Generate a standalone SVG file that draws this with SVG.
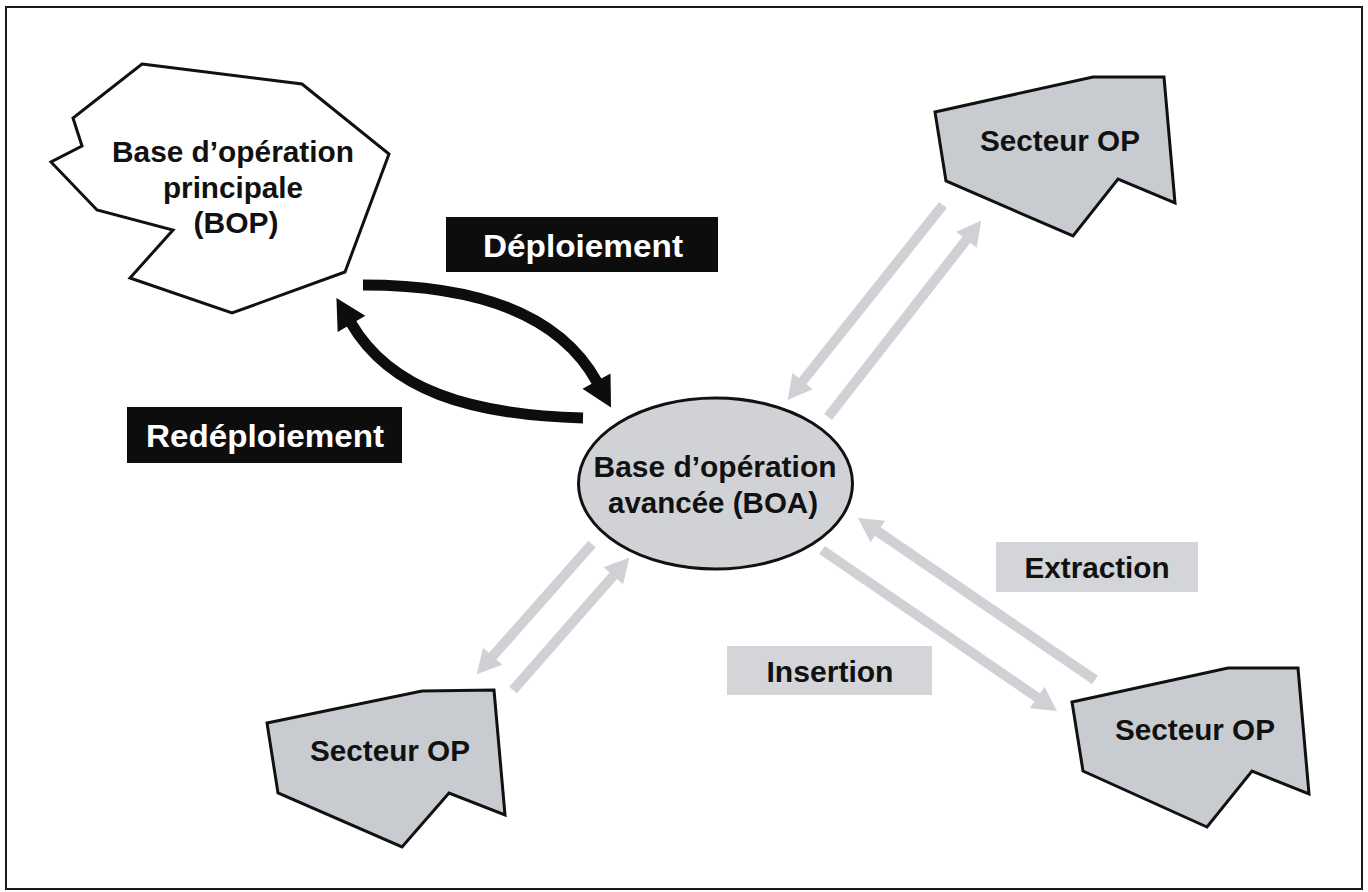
<svg xmlns="http://www.w3.org/2000/svg" width="1368" height="892" viewBox="0 0 1368 892">
<style>
.lbl{font-family:"Liberation Sans",Arial,sans-serif;font-weight:bold;text-anchor:middle;fill:#111;}
.n{font-size:30px;}
.w{font-size:32px;fill:#fff;}
.sector{fill:#c8cbd0;stroke:#111;stroke-width:3;stroke-linejoin:miter;}
.garrow{fill:none;stroke:#cfd1d5;stroke-width:10;}
.barrow{fill:none;stroke:#0d0d0d;stroke-width:11;}
.gbox{fill:#d3d5d8;}
.bbox{fill:#0d0d0d;}
</style>
<defs>
<marker id="gh" markerUnits="userSpaceOnUse" markerWidth="40" markerHeight="40" refX="1" refY="0" orient="auto" viewBox="0 -20 40 40" overflow="visible">
<path d="M0,-13 L24,0 L0,13 z" fill="#cfd1d5"/>
</marker>
<marker id="bh" markerUnits="userSpaceOnUse" markerWidth="40" markerHeight="40" refX="1" refY="0" orient="auto" viewBox="0 -20 40 40" overflow="visible">
<path d="M0,-16 L30,0 L0,16 z" fill="#0d0d0d"/>
</marker>
</defs>
<rect x="0" y="0" width="1368" height="892" fill="#fff"/>
<rect x="6" y="7" width="1356" height="882" fill="none" stroke="#1a1a1a" stroke-width="2"/>

<g id="connectors">
<path class="barrow" d="M363,285 C480,285 560,315 597,382" marker-end="url(#bh)"/>
<path class="barrow" d="M583,418 C470,415 390,390 351,323" marker-end="url(#bh)"/>
<line class="garrow" x1="943" y1="205" x2="802" y2="382" marker-end="url(#gh)"/>
<line class="garrow" x1="828" y1="417" x2="967" y2="239" marker-end="url(#gh)"/>
<line class="garrow" x1="592" y1="544" x2="492" y2="657" marker-end="url(#gh)"/>
<line class="garrow" x1="513" y1="690" x2="614" y2="575" marker-end="url(#gh)"/>
<line class="garrow" x1="822" y1="550" x2="1038" y2="698" marker-end="url(#gh)"/>
<line class="garrow" x1="1095" y1="680" x2="877" y2="531" marker-end="url(#gh)"/>
</g>

<g id="bop">
<polygon points="142,64 302,84 389,154 345,272 232,313 130,278 173,230 97,210 51,162 82,146 73,118" fill="#fff" stroke="#111" stroke-width="3"/>
<text class="lbl n" x="233" y="162" textLength="242" lengthAdjust="spacingAndGlyphs">Base d’opération</text>
<text class="lbl n" x="233" y="198" textLength="140" lengthAdjust="spacingAndGlyphs">principale</text>
<text class="lbl n" x="236" y="233" textLength="85" lengthAdjust="spacingAndGlyphs">(BOP)</text>
</g>

<g id="boa">
<ellipse cx="715.5" cy="483.5" rx="137" ry="85.5" fill="#d0d2d6" stroke="#111" stroke-width="3"/>
<text class="lbl n" x="715" y="477" textLength="243" lengthAdjust="spacingAndGlyphs">Base d’opération</text>
<text class="lbl n" x="713" y="513" textLength="210" lengthAdjust="spacingAndGlyphs">avancée (BOA)</text>
</g>

<g id="sector-tr">
<polygon class="sector" points="935,112 1093,77 1164,77 1175,203 1118,179 1073,236 946,181"/>
<text class="lbl n" x="1060" y="151" textLength="160" lengthAdjust="spacingAndGlyphs">Secteur OP</text>
</g>

<g id="sector-bl">
<polygon class="sector" points="267,723 422,691 494,690 505,815 449,793 402,847 278,793"/>
<text class="lbl n" x="390" y="761" textLength="160" lengthAdjust="spacingAndGlyphs">Secteur OP</text>
</g>

<g id="sector-br">
<polygon class="sector" points="1072,702 1228,668 1298,668 1309,794 1252,771 1207,827 1083,771"/>
<text class="lbl n" x="1195" y="740" textLength="160" lengthAdjust="spacingAndGlyphs">Secteur OP</text>
</g>

<g id="label-deploiement">
<rect class="bbox" x="446" y="217" width="272" height="55"/>
<text class="lbl w" x="583" y="257" textLength="200" lengthAdjust="spacingAndGlyphs">Déploiement</text>
</g>

<g id="label-redeploiement">
<rect class="bbox" x="127" y="407" width="275" height="56"/>
<text class="lbl w" x="265" y="447" textLength="238" lengthAdjust="spacingAndGlyphs">Redéploiement</text>
</g>

<g id="label-extraction">
<rect class="gbox" x="996" y="542" width="202" height="50"/>
<text class="lbl n" x="1097" y="578" textLength="145" lengthAdjust="spacingAndGlyphs">Extraction</text>
</g>

<g id="label-insertion">
<rect class="gbox" x="727" y="646" width="205" height="49"/>
<text class="lbl n" x="830" y="682" textLength="127" lengthAdjust="spacingAndGlyphs">Insertion</text>
</g>
</svg>
